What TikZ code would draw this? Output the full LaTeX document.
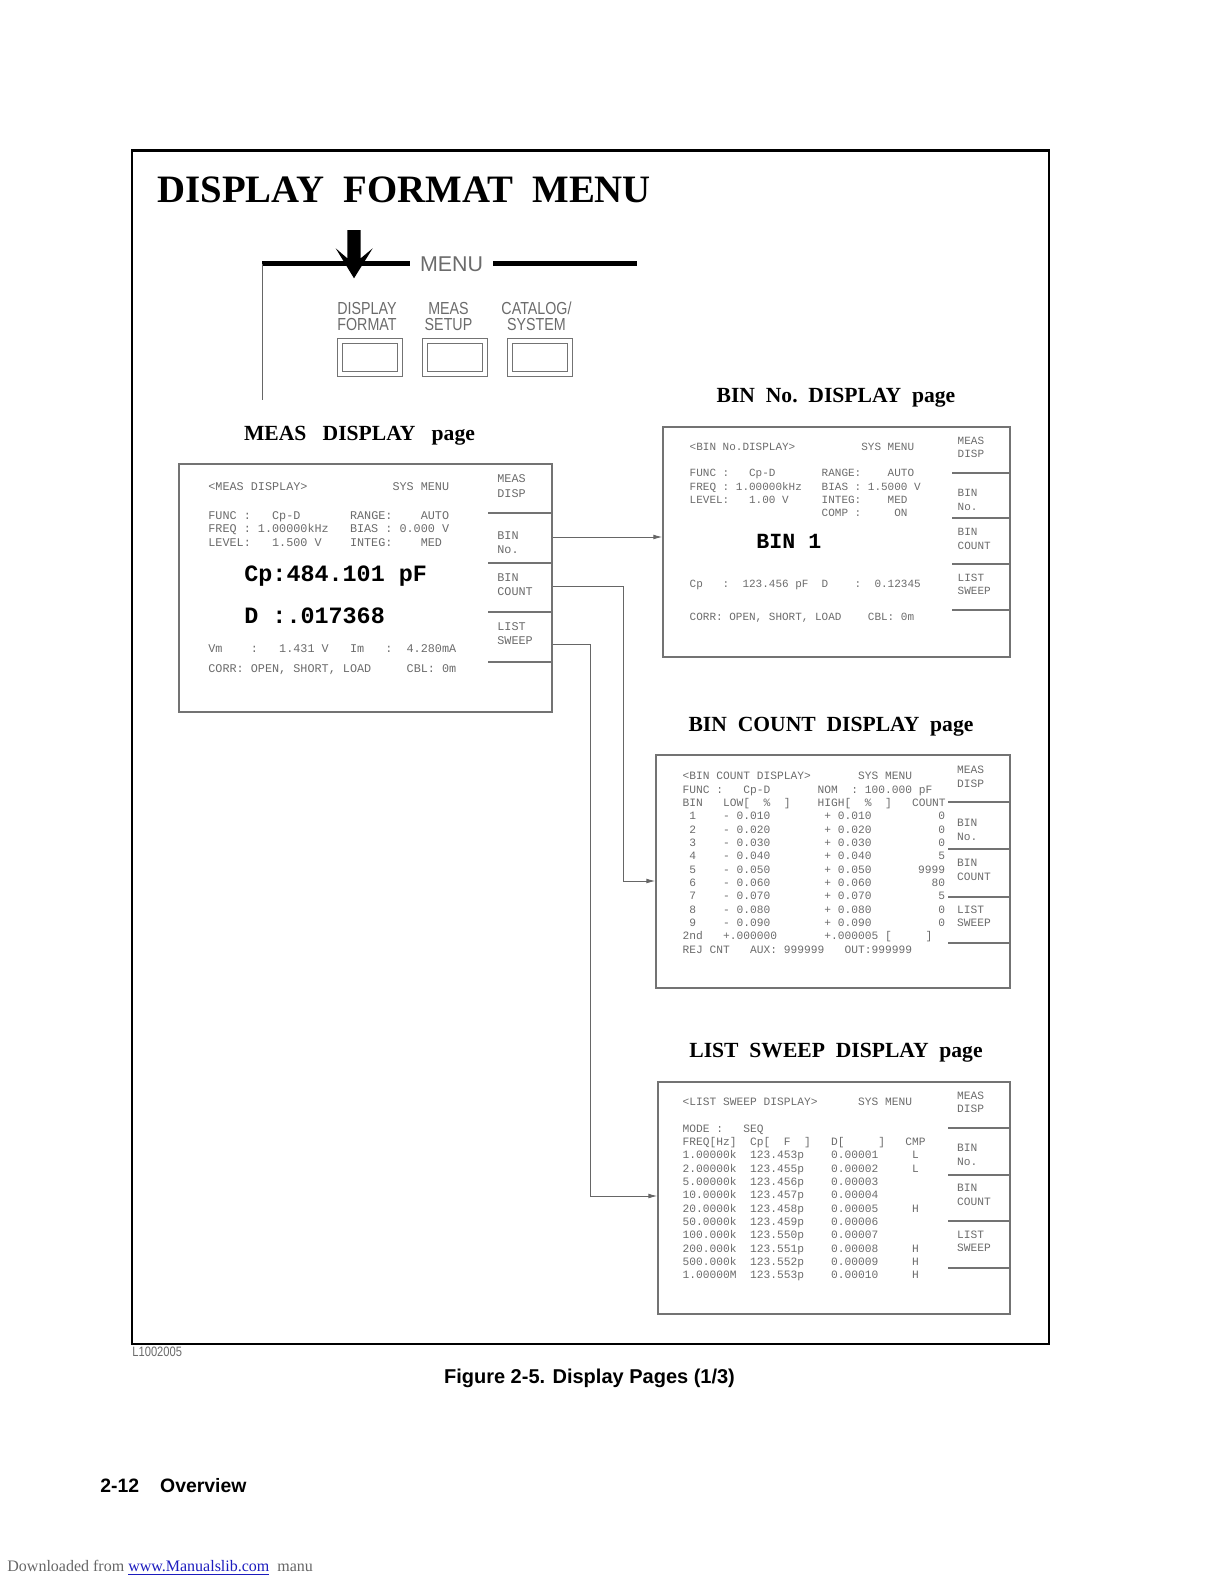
\documentclass[tikz,border=0pt]{standalone}
\usepackage{fontspec}
\usetikzlibrary{arrows.meta,positioning,fit}
\newfontfamily\lcdfont{Liberation Mono}
\newfontfamily\keyfont[FakeStretch=0.82]{Liberation Sans}
\newfontfamily\plainsans{Liberation Sans}
\newfontfamily\headfont{Liberation Serif}
\definecolor{lcdgray}{gray}{0.42}
\definecolor{linkblue}{RGB}{28,28,190}
\tikzset{
  panel/.style={draw=black!55,line width=0.6pt,inner sep=0pt},
  keysep/.style={draw=black!55,line width=0.6pt},
  lcd/.style={
    anchor=base west,inner sep=0pt,text=lcdgray,
    font=\lcdfont\fontsize{#1}{#1}\selectfont
  },
  reading/.style={
    anchor=base west,inner sep=0pt,
    font=\lcdfont\bfseries\fontsize{#1}{#1}\selectfont
  },
  softkey/.style 2 args={
    anchor=west,align=left,inner sep=0pt,text=lcdgray,
    font=\lcdfont\fontsize{#1}{#2}\selectfont
  },
  pagetitle/.style={
    anchor=base,inner sep=0pt,
    font=\headfont\bfseries\fontsize{10.8}{13}\selectfont
  },
  keycap/.style={
    draw=black!55,line width=0.5pt,double,double distance=2.4pt,
    minimum width=30pt,minimum height=16.5pt,inner sep=0pt
  },
  keylabel/.style={
    anchor=south,align=center,inner sep=0pt,text=lcdgray,
    font=\keyfont\fontsize{8.7}{8}\selectfont
  },
  menuline/.style={line width=2.6pt},
  conn/.style={draw=black!60,line width=0.5pt,-{Latex[length=4.5pt,width=2.4pt]}}
}
\begin{document}
\begin{tikzpicture}[x=0.5pt,y=-0.5pt]
  \useasboundingbox (0,0) rectangle (1224,1584);
  \draw[line width=1.2pt] (132,150.5) rectangle (1049,1344);
  \node[anchor=base west,inner sep=0pt,
    font=\headfont\bfseries\fontsize{19.4}{23}\selectfont]
    (title) at (157,202) {DISPLAY\ \ FORMAT\ \ MENU};

  % menu keys
  \node[text=lcdgray,inner ysep=0pt,inner xsep=5pt,
    font=\plainsans\fontsize{10.7}{12}\selectfont] (menutext) at (451.5,264) {MENU};
  \coordinate (menuleft) at (262,263.5);
  \coordinate (menuright) at (637,263.5);
  \coordinate (menudrop) at (262,400);
  \draw[menuline] (menuleft) -- (menutext.west |- menuleft);
  \draw[menuline] (menutext.east |- menuright) -- (menuright);
  \draw[draw=black!60,line width=0.5pt] (menuleft) -- (menudrop);
  \fill (347.3,230) -- (360.7,230) -- (360.7,258.3) -- (372.7,248.3)
    -- (354,278.3) -- (335.7,248.3) -- (347.3,258.3) -- cycle;
  \node[keycap] (fmtkey) at (370,357.5) {};
  \node[keycap,right=12pt of fmtkey] (setupkey) {};
  \node[keycap,right=12pt of setupkey] (syskey) {};
  \node[keylabel] (fmtlabel) at (367,331) {DISPLAY\\FORMAT};
  \node[keylabel] (setuplabel) at (448.5,331) {MEAS\\SETUP};
  \node[keylabel] (syslabel) at (536.5,331) {CATALOG/\\SYSTEM};

  % MEAS DISPLAY page
  \node[pagetitle] (meastitle) at (359.5,440) {MEAS\ \ \ DISPLAY\ \ \ page};
  \node[panel,fit={(179,464) (552,712)}] (measpanel) {};
  \foreach \y in {513,563,612,662}
    \draw[keysep] (488,\y) -- (measpanel.east |- 0,\y);
  \node[lcd=5.9] (meashead) at (208,490.5) {<MEAS~DISPLAY>~~~~~~~~~~~~SYS~MENU};
  \node[lcd=5.9] (measfunc) at (208,519) {FUNC~:~~~Cp-D~~~~~~~RANGE:~~~~AUTO};
  \node[lcd=5.9] (measfreq) at (208,532.2) {FREQ~:~1.00000kHz~~~BIAS~:~0.000~V};
  \node[lcd=5.9] (measlevel) at (208,546.2) {LEVEL:~~~1.500~V~~~~INTEG:~~~~MED};
  \node[reading=11.7] (meascp) at (244,581) {Cp:484.101~pF};
  \node[reading=11.7] (measd) at (244,623) {D~:.017368};
  \node[lcd=5.9] (measvm) at (208,652.2) {Vm~~~~:~~~1.431~V~~~Im~~~:~~4.280mA};
  \node[lcd=5.9] (meascorr) at (208,672.2) {CORR:~OPEN,~SHORT,~LOAD~~~~~CBL:~0m};
  \foreach \k/\y [count=\i] in {{MEAS\\DISP}/486,{BIN\\No.}/542.5,
      {BIN\\COUNT}/584.7,{LIST\\SWEEP}/633.4}
    \node[softkey={5.9}{7.15}] (measkey\i) at (497,\y) {\k};

  % BIN No. DISPLAY page
  \node[pagetitle] (bintitle) at (836,402) {BIN\ \ No.\ \ DISPLAY\ \ page};
  \node[panel,fit={(663,427) (1010,657)}] (binpanel) {};
  \foreach \y in {473,518,564,610}
    \draw[keysep] (952,\y) -- (binpanel.east |- 0,\y);
  \node[lcd=5.5] (binhead) at (689.3,450.3) {<BIN~No.DISPLAY>~~~~~~~~~~SYS~MENU};
  \node[lcd=5.5] (binfunc) at (689.3,476.9) {FUNC~:~~~Cp-D~~~~~~~RANGE:~~~~AUTO};
  \node[lcd=5.5] (binfreq) at (689.3,490.3) {FREQ~:~1.00000kHz~~~BIAS~:~1.5000~V};
  \node[lcd=5.5] (binlevel) at (689.3,503.6) {LEVEL:~~~1.00~V~~~~~INTEG:~~~~MED};
  \node[lcd=5.5] (bincomp) at (821.3,516.9) {COMP~:~~~~~ON};
  \node[reading=10.8] (binno) at (756,548.3) {BIN~1};
  \node[lcd=5.5] (bincp) at (689.3,587.9) {Cp~~~:~~123.456~pF~~D~~~~:~~0.12345};
  \node[lcd=5.5] (bincorr) at (689.3,620.9) {CORR:~OPEN,~SHORT,~LOAD~~~~CBL:~0m};
  \foreach \k/\y [count=\i] in {{MEAS\\DISP}/447.5,{BIN\\No.}/499.7,
      {BIN\\COUNT}/539,{LIST\\SWEEP}/584.3}
    \node[softkey={5.5}{6.85}] (binkey\i) at (957.3,\y) {\k};

  % BIN COUNT DISPLAY page
  \node[pagetitle] (counttitle) at (831,731) {BIN\ \ COUNT\ \ DISPLAY\ \ page};
  \node[panel,fit={(656,755) (1010,988)}] (countpanel) {};
  \foreach \y in {802,849,897,943}
    \draw[keysep] (948,\y) -- (countpanel.east |- 0,\y);
  \node[lcd=5.62] (counthead) at (682.3,779.7) {<BIN~COUNT~DISPLAY>~~~~~~~SYS~MENU};
  \node[lcd=5.62] (countfunc) at (682.3,793) {FUNC~:~~~Cp-D~~~~~~~NOM~~:~100.000~pF};
  \node[lcd=5.62] (countcols) at (682.3,806.4)
    {BIN~~~LOW[~~\%~~]~~~~HIGH[~~\%~~]~~~COUNT};
  \foreach \n [count=\i] in {0,0,0,5,9999,80,5,0,0} {
    \node[lcd=5.62] (countrow\i) at (682.3,{819.7+13.34*(\i-1)})
      {~\i~~~~-~0.0\i0~~~~~~~~+~0.0\i0};
    \node[lcd=5.62,anchor=base east] (countnum\i) at (945.6,{819.7+13.34*(\i-1)}) {\n};
  }
  \node[lcd=5.62] (countsecond) at (682.3,939.7) {2nd~~~+.000000~~~~~~~+.000005~[~~~~~]};
  \node[lcd=5.62] (countrej) at (682.3,953) {REJ~CNT~~~AUX:~999999~~~OUT:999999};
  \foreach \k/\y [count=\i] in {{MEAS\\DISP}/776.7,{BIN\\No.}/829.7,
      {BIN\\COUNT}/870,{LIST\\SWEEP}/916}
    \node[softkey={5.62}{6.67}] (countkey\i) at (956.7,\y) {\k};

  % LIST SWEEP DISPLAY page
  \node[pagetitle] (sweeptitle) at (836,1057) {LIST\ \ SWEEP\ \ DISPLAY\ \ page};
  \node[panel,fit={(658,1082) (1010,1314)}] (sweeppanel) {};
  \foreach \y in {1128,1175,1221,1268}
    \draw[keysep] (948,\y) -- (sweeppanel.east |- 0,\y);
  \node[lcd=5.62] (sweephead) at (682.3,1105.4) {<LIST~SWEEP~DISPLAY>~~~~~~SYS~MENU};
  \node[lcd=5.62] (sweepmode) at (682.3,1132) {MODE~:~~~SEQ};
  \node[lcd=5.62] (sweepcols) at (682.3,1145.4) {FREQ[Hz]~~Cp[~~F~~]~~~D[~~~~~]~~~CMP};
  \foreach \f/\c/\d/\m [count=\k] in {1.00000k/123.453p/0.00001/L,
      2.00000k/123.455p/0.00002/L, 5.00000k/123.456p/0.00003/{},
      10.0000k/123.457p/0.00004/{}, 20.0000k/123.458p/0.00005/H,
      50.0000k/123.459p/0.00006/{}, 100.000k/123.550p/0.00007/{},
      200.000k/123.551p/0.00008/H, 500.000k/123.552p/0.00009/H,
      1.00000M/123.553p/0.00010/H}
    \node[lcd=5.62] (sweeprow\k) at (682.3,{1158.7+13.33*(\k-1)}) {\f~~\c~~~~\d~~~~~\m};
  \foreach \k/\y [count=\i] in {{MEAS\\DISP}/1102.4,{BIN\\No.}/1154.7,
      {BIN\\COUNT}/1195,{LIST\\SWEEP}/1241}
    \node[softkey={5.62}{6.67}] (sweepkey\i) at (956.7,\y) {\k};

  % softkey jumps
  \draw[conn] (measpanel.east |- 0,537) -- (binpanel.west |- 0,537);
  \draw[conn] (measpanel.east |- 0,586) -| (623,881) -- (countpanel.west |- 0,881);
  \draw[conn] (measpanel.east |- 0,644) -| (590,1196) -- (sweeppanel.west |- 0,1196);

  % captions
  \node[anchor=west,inner sep=0pt,text=lcdgray,font=\keyfont\fontsize{6.8}{8}\selectfont]
    (artno) at (132,1352) {L1002005};
  \node[inner sep=0pt,font=\plainsans\bfseries\fontsize{10}{12}\selectfont]
    (caption) at (589.5,1378) {Figure 2-5. Display Pages (1/3)};
  \node[anchor=base west,inner sep=0pt,font=\plainsans\bfseries\fontsize{9.7}{12}\selectfont]
    (pagefoot) at (100,1492) {2-12\hspace{10.5pt}Overview};
  \node[anchor=base west,inner sep=0pt,text=black!60,font=\headfont\fontsize{8}{10}\selectfont]
    (download) at (7,1571.7)
    {Downloaded from \textcolor{linkblue}{\underline{www.Manualslib.com}}\ \ manu};
\end{tikzpicture}
\end{document}
